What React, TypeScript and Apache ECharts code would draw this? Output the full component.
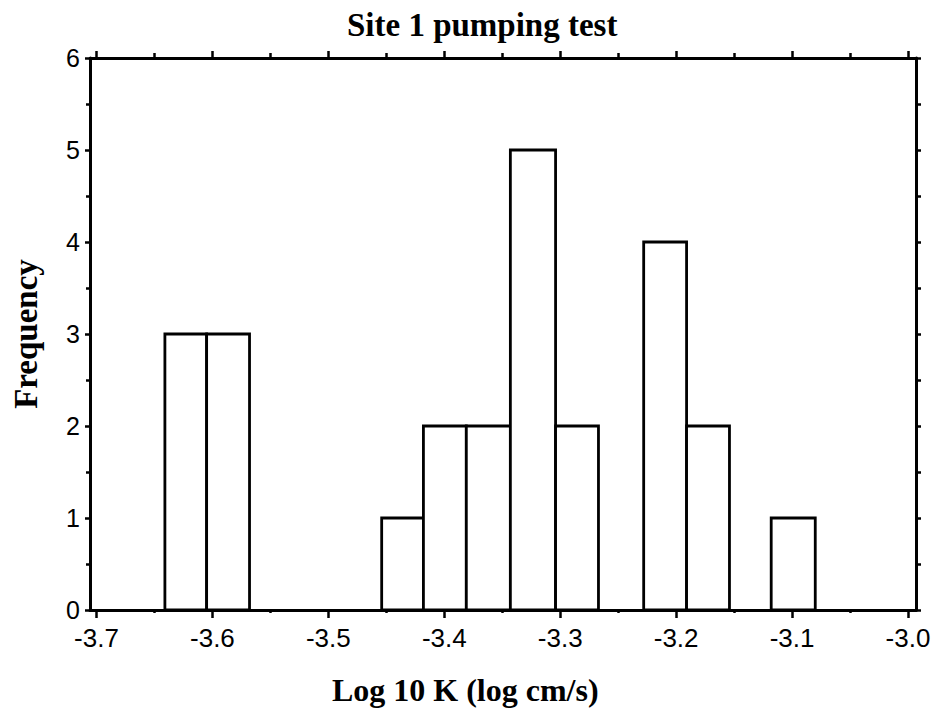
import React, { useEffect, useRef } from "react";
import * as echarts from "echarts";

// Histogram bins (only non-empty bins)
const binLow = [-3.641, -3.605, -3.454, -3.418, -3.381, -3.343, -3.304, -3.228, -3.191, -3.118];
const binHigh = [-3.605, -3.568, -3.418, -3.381, -3.343, -3.304, -3.267, -3.191, -3.154, -3.080];
const counts = [3, 3, 1, 2, 2, 5, 2, 4, 2, 1];

const xMin = -3.7;
const xMax = -3.0;
const yMin = 0;
const yMax = 6;

const titleText = "Site 1 pumping test";
const xName = "Log 10 K (log cm/s)";
const yName = "Frequency";

const serif = "'Liberation Serif', 'Times New Roman', serif";
const sans = "'Liberation Sans', Arial, sans-serif";

export default function App() {
  const ref = useRef<HTMLDivElement>(null);
  useEffect(() => {
    if (!ref.current) return;
    const chart = echarts.init(ref.current, undefined, { renderer: "svg" });
    const lineStyle = { color: "#000", width: 3 };
    const frameAxis = (position: string) => ({
      type: "value",
      gridIndex: 0,
      position,
      min: 0,
      max: 1,
      axisLine: { show: true, onZero: false, lineStyle },
      axisTick: { show: false },
      axisLabel: { show: false },
      splitLine: { show: false },
    });
    const data = binLow.map((lo, i) => [lo, binHigh[i], counts[i]]);
    chart.setOption({
      animation: false,
      backgroundColor: "#fff",
      title: {
        text: titleText,
        left: 347,
        top: 8,
        padding: 0,
        textStyle: { fontFamily: serif, fontWeight: "bold", fontSize: 33, color: "#000" },
      },
      grid: [
        { left: 90, right: 19, top: 58, bottom: 108 },
        { left: 96.5, right: 27, top: 58, bottom: 108 },
      ],
      xAxis: [
        frameAxis("bottom"),
        frameAxis("top"),
        {
          type: "value",
          gridIndex: 1,
          position: "bottom",
          min: xMin,
          max: xMax,
          interval: 0.1,
          axisLine: { show: false, onZero: false },
          axisTick: { show: true, length: 8, lineStyle: { color: "#000", width: 2.5 } },
          minorTick: { show: true, splitNumber: 2, length: 3, lineStyle: { color: "#000", width: 2.5 } },
          axisLabel: {
            show: true,
            margin: 15,
            fontFamily: sans,
            fontSize: 26,
            color: "#000",
            formatter: (v: number) => v.toFixed(1),
          },
          splitLine: { show: false },
          minorSplitLine: { show: false },
          name: xName,
          nameLocation: "middle",
          nameGap: 64,
          nameTextStyle: {
            fontFamily: serif,
            fontWeight: "bold",
            fontSize: 32,
            color: "#000",
            padding: [0, 74, 0, 0],
          },
        },
        {
          type: "value",
          gridIndex: 1,
          position: "top",
          min: xMin,
          max: xMax,
          interval: 0.1,
          axisLine: { show: false, onZero: false },
          axisTick: { show: true, length: 7, lineStyle: { color: "#000", width: 2.5 } },
          minorTick: { show: true, splitNumber: 2, length: 5, lineStyle: { color: "#000", width: 2.5 } },
          axisLabel: { show: false },
          splitLine: { show: false },
        },
      ],
      yAxis: [
        {
          type: "value",
          gridIndex: 0,
          position: "left",
          min: yMin,
          max: yMax,
          interval: 1,
          axisLine: { show: true, onZero: false, lineStyle },
          axisTick: { show: true, length: 5, lineStyle: { color: "#000", width: 2.5 } },
          minorTick: { show: true, splitNumber: 2, length: 4, lineStyle: { color: "#000", width: 2.5 } },
          axisLabel: { show: true, margin: 10, fontFamily: sans, fontSize: 25, color: "#000" },
          splitLine: { show: false },
          name: yName,
          nameLocation: "middle",
          nameGap: 48,
          nameTextStyle: { fontFamily: serif, fontWeight: "bold", fontSize: 33, color: "#000" },
        },
        {
          type: "value",
          gridIndex: 0,
          position: "right",
          min: yMin,
          max: yMax,
          interval: 0.5,
          axisLine: { show: true, onZero: false, lineStyle },
          axisTick: { show: true, length: 5, lineStyle: { color: "#000", width: 2.5 } },
          axisLabel: { show: false },
          splitLine: { show: false },
        },
        {
          type: "value",
          gridIndex: 1,
          min: yMin,
          max: yMax,
          show: false,
          splitLine: { show: false },
        },
      ],
      series: [
        {
          type: "custom",
          xAxisIndex: 2,
          yAxisIndex: 2,
          encode: { x: [0, 1], y: 2 },
          data,
          renderItem: (_params: any, api: any) => {
            const lo = api.value(0);
            const hi = api.value(1);
            const c = api.value(2);
            const p1 = api.coord([lo, c]);
            const p2 = api.coord([hi, 0]);
            return {
              type: "rect",
              shape: { x: p1[0], y: p1[1], width: p2[0] - p1[0], height: p2[1] - p1[1] },
              style: { fill: "#fff", stroke: "#000", lineWidth: 2.8 },
            };
          },
        },
      ],
    });
    return () => chart.dispose();
  }, []);
  return (
    <div
      ref={ref}
      style={{ position: "absolute", left: 0, top: 0, width: 935, height: 718, background: "#fff" }}
    />
  );
}
